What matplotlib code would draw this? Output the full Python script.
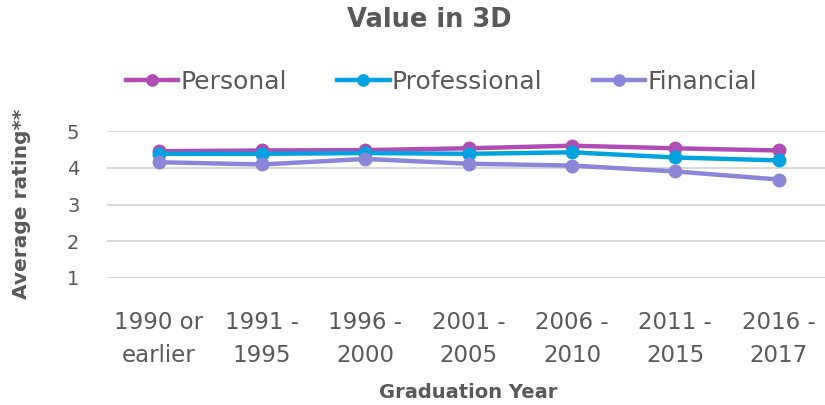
import matplotlib.pyplot as plt

# data
years = ['1990 or\nearlier', '1991 -\n1995', '1996 -\n2000', '2001 -\n2005',
         '2006 -\n2010', '2011 -\n2015', '2016 -\n2017']
personal = [4.45, 4.47, 4.48, 4.53, 4.60, 4.53, 4.47]
professional = [4.38, 4.38, 4.40, 4.38, 4.42, 4.28, 4.20]
financial = [4.15, 4.09, 4.24, 4.11, 4.06, 3.90, 3.68]

grey = '#595959'

fig = plt.figure(figsize=(8.25, 4.05), dpi=100)
ax = fig.add_axes([0.13, 0.3136, 0.87, 0.3629])

x = range(len(years))
ax.plot(x, personal, color='#B04DB4', lw=3.2, marker='o', ms=9, label='Personal', clip_on=False)
ax.plot(x, professional, color='#00A3DF', lw=3.2, marker='o', ms=9, label='Professional', clip_on=False)
ax.plot(x, financial, color='#8C86D8', lw=3.2, marker='o', ms=9, label='Financial', clip_on=False)

ax.set_xlim(-0.5, 6.45)
ax.set_ylim(1, 5)
ax.set_yticks([1, 2, 3, 4, 5])
ax.set_xticks(list(x))
ax.set_xticklabels(years, fontsize=16.5, color=grey, linespacing=1.55)
ax.tick_params(axis='y', labelsize=14, labelcolor=grey, length=0, pad=20)
ax.tick_params(axis='x', length=0, pad=24)
ax.grid(axis='y', color='#D9D9D9', lw=1.5)
ax.set_axisbelow(True)
for s in ax.spines.values():
    s.set_visible(False)

fig.text(0.026, 0.497, 'Average rating**', fontsize=14.5, fontweight='bold', color=grey,
         rotation=90, ha='center', va='center')
fig.text(0.567, 0.03, 'Graduation Year', fontsize=14, fontweight='bold', color=grey, ha='center', va='center')
fig.text(0.52, 0.95, 'Value in 3D', fontsize=18.5, fontweight='bold', color=grey, ha='center', va='center')

leg = fig.legend(loc='center', bbox_to_anchor=(0.535, 0.797), ncol=3, frameon=False,
                 fontsize=18, handlelength=2.1, handletextpad=0.1, columnspacing=2.0, markerscale=0.9)
for t in leg.get_texts():
    t.set_color(grey)

fig.savefig('out.png', dpi=100)
